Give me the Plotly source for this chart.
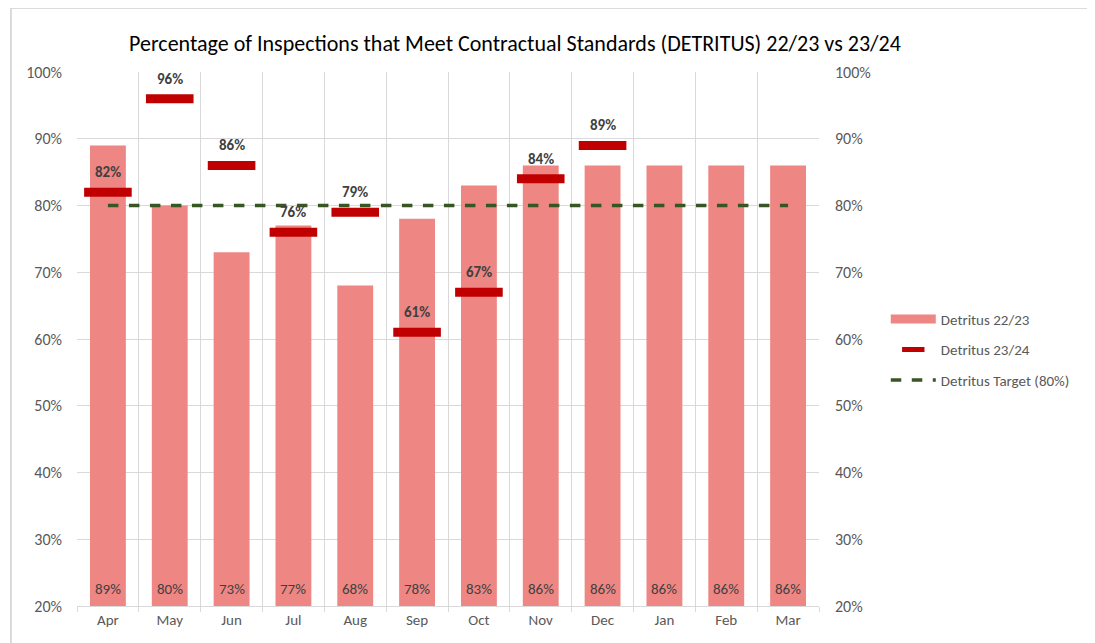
import plotly.graph_objects as go

months = ["Apr", "May", "Jun", "Jul", "Aug", "Sep", "Oct", "Nov", "Dec", "Jan", "Feb", "Mar"]
detritus_2223 = [89, 80, 73, 77, 68, 78, 83, 86, 86, 86, 86, 86]
detritus_2324 = [82, 96, 86, 76, 79, 61, 67, 84, 89]
target = [80] * 12
y_ticks = [20, 30, 40, 50, 60, 70, 80, 90, 100]

FONT = "Carlito, 'Open Sans', 'Noto Sans', sans-serif"
BAR_COLOR = "#EE8683"
xs = list(range(len(months)))

fig = go.Figure()
fig.add_trace(go.Bar(
    x=xs, y=detritus_2223, name="Detritus 22/23", legendgroup="a", showlegend=False,
    marker=dict(color=BAR_COLOR, line=dict(width=0)), width=0.58,
))
# legend proxy giving the wide, flat swatch of the bar series
fig.add_trace(go.Scatter(
    x=[None], y=[None], name="Detritus 22/23", legendgroup="a", mode="lines",
    line=dict(color=BAR_COLOR, width=9),
))
fig.add_trace(go.Scatter(
    x=xs[:len(detritus_2324)], y=detritus_2324, name="Detritus 23/24", legendgroup="b",
    mode="markers",
    marker=dict(symbol="line-ew", size=34, color="#C00000",
                line=dict(color="#C00000", width=9)),
))
fig.add_trace(go.Scatter(
    x=xs, y=target, name="Detritus Target (80%)", mode="lines", legendgroup="c",
    line=dict(color="#375623", width=3.5, dash="dash"),
))
# invisible trace for right axis
fig.add_trace(go.Scatter(x=[xs[0]], y=[target[0]], yaxis="y2", mode="markers",
                         marker=dict(opacity=0), showlegend=False, hoverinfo="skip"))

annotations = []
for i, v in enumerate(detritus_2324):
    annotations.append(dict(x=i, y=v, text=f"<b>{v}%</b>", showarrow=False,
                            yshift=20, font=dict(size=15, color="#404040", family=FONT)))
for i, v in enumerate(detritus_2223):
    annotations.append(dict(x=i, y=y_ticks[0], text=f"{v}%", showarrow=False,
                            yshift=17, font=dict(size=15, color="#404040", family=FONT)))

fig.update_layout(
    width=1095, height=643,
    margin=dict(l=69, r=284, t=64, b=45),
    paper_bgcolor="white", plot_bgcolor="white",
    font=dict(family=FONT, color="#595959", size=14),
    title=dict(text="Percentage of Inspections that Meet Contractual Standards (DETRITUS) 22/23 vs 23/24",
               x=0.463, xanchor="center", y=0.945, yanchor="middle",
               font=dict(size=22, color="#000000", family=FONT)),
    showlegend=True,
    legend=dict(x=1.09, y=0.48, xanchor="left", yanchor="middle",
                font=dict(size=15, color="#595959", family=FONT),
                bgcolor="rgba(0,0,0,0)", tracegroupgap=8, itemwidth=45),
    xaxis=dict(range=[-0.5, 11.5], tickmode="array", tickvals=xs, ticktext=months,
               showgrid=False, zeroline=False, showline=True, linecolor="#D9D9D9",
               linewidth=1, ticks="", tickfont=dict(size=15, color="#595959"),
               minor=dict(tickmode="array", tickvals=[i - 0.5 for i in range(13)],
                          showgrid=True, gridcolor="#D9D9D9", gridwidth=1,
                          ticks="outside", ticklen=5, tickcolor="#D9D9D9")),
    yaxis=dict(range=[20, 100], tickmode="array", tickvals=y_ticks,
               ticktext=[f"{t}%" for t in y_ticks], showgrid=True,
               gridcolor="#D9D9D9", gridwidth=1, zeroline=False,
               tickfont=dict(size=16, color="#595959"), ticks="", ticklabelstandoff=14),
    yaxis2=dict(range=[20, 100], tickmode="array", tickvals=y_ticks,
                ticktext=[f"{t}%" for t in y_ticks], overlaying="y", side="right",
                showgrid=False, zeroline=False, ticks="",
                tickfont=dict(size=16, color="#595959"), ticklabelstandoff=15),
    bargap=0.42,
    annotations=annotations,
    shapes=[dict(type="rect", xref="paper", yref="paper",
                 x0=-0.089, x1=1.365, y0=-0.12, y1=1.12,
                 line=dict(color="#D0D0D0", width=1.5), layer="below")],
)

fig.write_html("out.html")
